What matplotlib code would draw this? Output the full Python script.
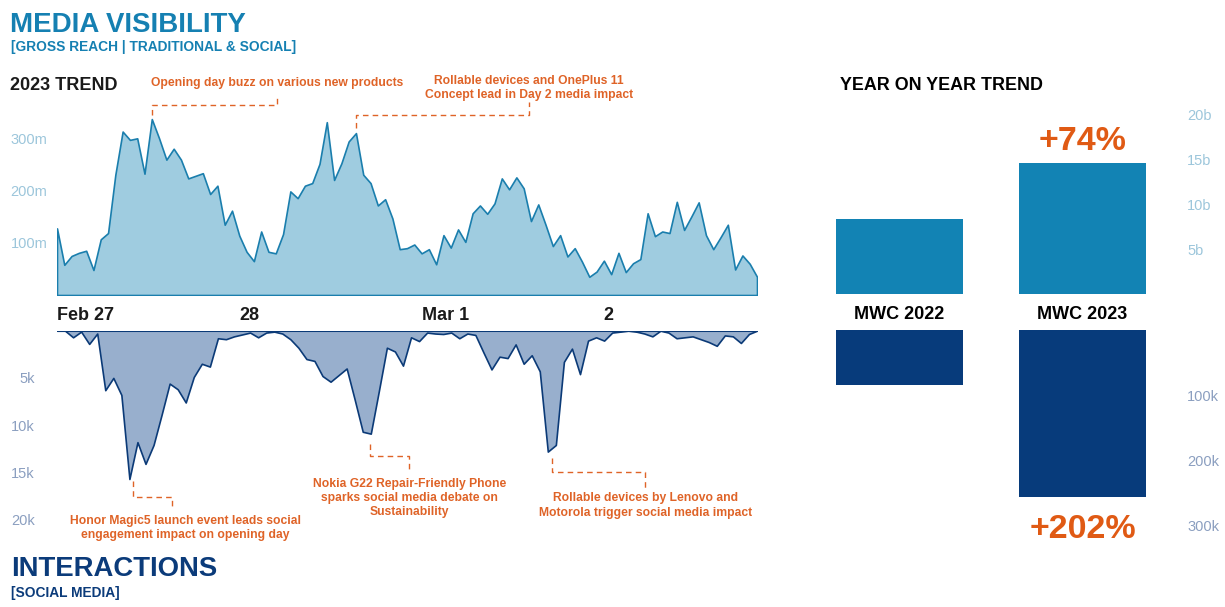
import numpy as np
import matplotlib
matplotlib.use("Agg")
import matplotlib.pyplot as plt

plt.rcParams['font.family'] = ['Liberation Sans', 'DejaVu Sans']

# ---------------- data ----------------
reach_m = [128, 58, 75, 81, 85, 48, 107, 119, 231, 314, 298, 301, 233, 338, 301, 260, 281, 260, 224, 229,
           234, 194, 210, 135, 162, 114, 83, 65, 122, 83, 80, 117, 199, 186, 210, 215, 252, 332, 221, 253,
           295, 311, 231, 215, 172, 184, 147,
           88, 90, 97, 80, 88, 59, 115, 91, 126, 102, 157, 172, 156, 176, 224, 203, 226, 205, 142, 174,
           135, 94, 115, 74, 90, 64, 35, 45, 66, 40, 81, 44, 61, 69, 157, 113, 122, 119, 179, 125,
           151, 178, 115, 88, 111, 135, 49, 76, 60, 35]

interactions_k = [0, 0, 0.7, 0.1, 1.4, 0.3, 6.3, 5.0, 6.8, 15.7, 11.8, 14.1, 12.1, 8.9, 5.6, 6.2, 7.6, 4.9,
                  3.5, 3.8, 0.8, 0.9, 0.6, 0.4, 0.2, 0.7, 0.2, 0.1, 0.3, 0.9, 1.8, 3.0, 3.2, 4.8, 5.4, 4.7,
                  4.0, 7.3, 10.7, 10.9, 6.4, 1.8,
                  2.2, 3.7, 0.7, 1.1, 0.2, 0.3, 0.35, 0.2, 0.8, 0.3, 0.45, 2.3, 4.1, 2.75, 2.9, 1.45, 3.5,
                  2.6, 4.3, 12.8, 12.1, 3.3, 1.9, 4.6, 1.05, 0.7, 1.05, 0.2, 0.1, 0, 0.1, 0.3, 0.6, 0,
                  0.2, 0.8, 0.7, 0.6, 0.9, 1.2, 1.6, 0.5, 0.6, 1.3, 0.35, 0]

day_labels = ["Feb 27", "28", "Mar 1", "2"]
day_start_idx = [0, 25, 50, 75]

reach_ticks = [100, 200, 300]
reach_tick_labels = ["100m", "200m", "300m"]
inter_ticks = [5, 10, 15, 20]
inter_tick_labels = ["5k", "10k", "15k", "20k"]

yoy_categories = ["MWC 2022", "MWC 2023"]
yoy_reach_b = [8.4, 14.6]
yoy_inter_k = [85, 257]
yoy_reach_ticks = [5, 10, 15, 20]
yoy_reach_tick_labels = ["5b", "10b", "15b", "20b"]
yoy_inter_ticks = [100, 200, 300]
yoy_inter_tick_labels = ["100k", "200k", "300k"]
growth_labels = ["+74%", "+202%"]

# annotations: text, anchor index, start level, elbow level, text x index, end level, text y level
reach_notes = [
    ("Opening day buzz on various new products", 13, 345, 365, 30.2, 380, 407),
    ("Rollable devices and OnePlus 11\nConcept lead in Day 2 media impact", 41, 320, 345, 64.7, 370, 397),
]
inter_notes = [
    ("Honor Magic5 launch event leads social\nengagement impact on opening day", 9.4, 15.9, 17.6, 14.3, 19.0, 20.9, 16.0),
    ("Nokia G22 Repair-Friendly Phone\nsparks social media debate on\nSustainability", 38.9, 12.0, 13.3, 43.8, 15.0, 17.7, 43.8),
    ("Rollable devices by Lenovo and\nMotorola trigger social media impact", 61.5, 13.5, 15.0, 73.1, 16.9, 18.5, 73.1),
]

# ---------------- style ----------------
W, H = 1225, 607
TITLE_BLUE = '#1580B2'
NAVY = '#0B3B7A'
ORANGE = '#DF6327'
BIG_ORANGE = '#E05A14'
UP_FILL, UP_LINE = '#9FCCE0', '#1A7EAD'
LO_FILL, LO_LINE = '#98AFCD', '#0B3A77'
BAR_UP, BAR_LO = '#1283B4', '#073B7B'
TICK_UP, TICK_LO = '#9CC6DB', '#8B9FC0'
NOTE_FS = 8.7

fig = plt.figure(figsize=(W / 100, H / 100), dpi=100)
fig.patch.set_facecolor('white')


def px_axes(x0, y0, x1, y1):
    return fig.add_axes([x0 / W, 1 - y1 / H, (x1 - x0) / W, (y1 - y0) / H])


def ftext(x, y, s, **kw):
    return fig.text(x / W, 1 - y / H, s, **kw)


def clean(ax):
    for sp in ax.spines.values():
        sp.set_visible(False)
    ax.set_facecolor('none')


# ---------------- titles ----------------
ftext(10, 32.5, "MEDIA VISIBILITY", color=TITLE_BLUE, fontsize=19.9, fontweight='bold', va='baseline')
ftext(11, 51.5, "[GROSS REACH | TRADITIONAL & SOCIAL]", color=TITLE_BLUE, fontsize=9.9, fontweight='bold', va='baseline')
ftext(10, 90, "2023 TREND", color='#1a1a1a', fontsize=13, fontweight='bold', va='baseline')
ftext(840, 90, "YEAR ON YEAR TREND", color='black', fontsize=12.9, fontweight='bold', va='baseline')
ftext(11, 576.5, "INTERACTIONS", color=NAVY, fontsize=19.8, fontweight='bold', va='baseline')
ftext(11, 596.5, "[SOCIAL MEDIA]", color=NAVY, fontsize=9.9, fontweight='bold', va='baseline')

# ---------------- upper area chart ----------------
ax1 = px_axes(57, 105, 757, 295)
clean(ax1)
x1 = np.arange(len(reach_m))
ax1.fill_between(x1, reach_m, 0, facecolor=UP_FILL, edgecolor=UP_LINE, linewidth=1.2)
ax1.set_xlim(0, len(reach_m) - 1)
ax1.set_ylim(0, 365)
ax1.set_yticks(reach_ticks)
ax1.set_yticklabels(reach_tick_labels)
ax1.tick_params(axis='y', length=0, pad=7, labelsize=10.5, labelcolor=TICK_UP)
ax1.set_xticks(day_start_idx)
ax1.set_xticklabels(day_labels)
ax1.tick_params(axis='x', length=0, pad=9, labelsize=13, labelcolor='#1a1a1a')
for lab in ax1.get_xticklabels():
    lab.set_horizontalalignment('left')
    lab.set_fontweight('bold')

for text, ix, y0, y1, tx, y2, ty in reach_notes:
    ax1.plot([ix, ix, tx, tx], [y0, y1, y1, y2], color=ORANGE, lw=1, ls=(0, (4, 3)), clip_on=False)
    ax1.text(tx, ty, text, ha='center', va='center', color=ORANGE, fontsize=NOTE_FS, fontweight='bold',
             linespacing=1.25, clip_on=False)

# ---------------- lower area chart ----------------
ax2 = px_axes(57, 330.7, 757, 530)
clean(ax2)
x2 = np.arange(len(interactions_k))
ax2.fill_between(x2, interactions_k, 0, facecolor=LO_FILL, edgecolor=LO_LINE, linewidth=1.2)
ax2.set_xlim(0, len(interactions_k) - 1)
ax2.set_ylim(21.1, 0)
ax2.set_yticks(inter_ticks)
ax2.set_yticklabels(inter_tick_labels)
ax2.tick_params(axis='y', length=0, pad=16, labelsize=10.5, labelcolor=TICK_LO)
ax2.set_xticks([])

for text, ix, y0, y1, tx, y2, ty, txx in inter_notes:
    ax2.plot([ix, ix, tx, tx], [y0, y1, y1, y2], color=ORANGE, lw=1, ls=(0, (4, 3)), clip_on=False)
    ax2.text(txx, ty, text, ha='center', va='center', color=ORANGE, fontsize=NOTE_FS, fontweight='bold',
             linespacing=1.25, clip_on=False)

# ---------------- YoY bars ----------------
bw = 0.694
ax3 = px_axes(836, 106, 1146, 293.7)
clean(ax3)
xb = np.arange(len(yoy_categories))
ax3.bar(xb, yoy_reach_b, width=bw, color=BAR_UP)
ax3.set_xlim(-bw / 2, len(yoy_categories) - 1 + bw / 2)
ax3.set_ylim(0, 21)
ax3.yaxis.tick_right()
ax3.set_yticks(yoy_reach_ticks)
ax3.set_yticklabels(yoy_reach_tick_labels)
ax3.tick_params(axis='y', length=0, pad=29.5, labelsize=10.5, labelcolor=TICK_UP)
ax3.set_xticks(xb)
ax3.set_xticklabels(yoy_categories)
ax3.tick_params(axis='x', length=0, pad=9, labelsize=13, labelcolor='black')
for lab in ax3.get_xticklabels():
    lab.set_fontweight('bold')
ax3.annotate(growth_labels[0], (xb[-1], yoy_reach_b[-1]), xytext=(0, 9.5), textcoords='offset points',
             ha='center', va='baseline', color=BIG_ORANGE, fontsize=24.5, fontweight='bold')

ax4 = px_axes(836, 330, 1146, 545)
clean(ax4)
ax4.bar(xb, yoy_inter_k, width=bw, color=BAR_LO)
ax4.set_xlim(-bw / 2, len(yoy_categories) - 1 + bw / 2)
ax4.set_ylim(330, 0)
ax4.yaxis.tick_right()
ax4.set_yticks(yoy_inter_ticks)
ax4.set_yticklabels(yoy_inter_tick_labels)
ax4.tick_params(axis='y', length=0, pad=29.5, labelsize=10.5, labelcolor=TICK_LO)
ax4.set_xticks([])
ax4.annotate(growth_labels[1], (xb[-1], yoy_inter_k[-1]), xytext=(0, -29.5), textcoords='offset points',
             ha='center', va='baseline', color=BIG_ORANGE, fontsize=24.5, fontweight='bold')

fig.savefig("out.png", dpi=100, facecolor='white')
